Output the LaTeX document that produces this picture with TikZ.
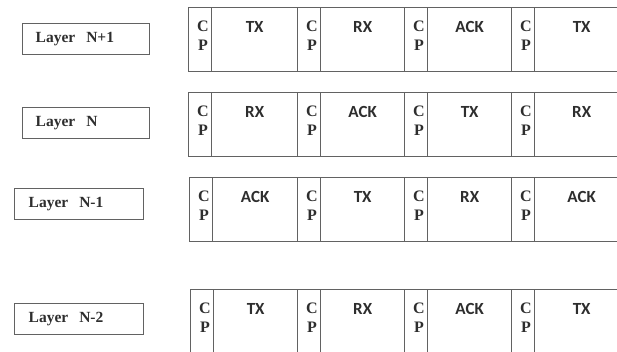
\documentclass[tikz,border=0pt]{standalone}
\usepackage{fontspec}
\setmainfont{Liberation Serif}
\newfontfamily\segfont{Carlito}
\definecolor{edge}{HTML}{626262}
\definecolor{ink}{HTML}{2E2E2E}
\tikzset{
  layerbox/.style={draw=edge, line width=1.4pt, minimum width=127pt, minimum height=31pt,
    anchor=north west, inner xsep=13pt, inner ysep=0pt, text width=101pt, align=left,
    text=ink, font=\bfseries\fontsize{15.5}{15.5}\selectfont},
  cpbox/.style={draw=edge, line width=1.3pt, minimum height=64pt, anchor=north west, inner sep=0pt},
  databox/.style={draw=edge, line width=1.3pt, minimum height=64pt, anchor=north west, inner sep=0pt},
  cptext/.style={inner sep=0pt, text=ink, font=\bfseries\fontsize{16}{16}\selectfont},
  segtext/.style={inner sep=0pt, text=ink, font=\segfont\bfseries\fontsize{17}{17}\selectfont},
}
\begin{document}
\begin{tikzpicture}[x=1pt,y=-1pt]
\useasboundingbox (0,0) rectangle (617,351);
\clip (0,0) rectangle (617,351);
\node[layerbox] (L1) at (22,23) {Layer\hspace{11pt}N+1};
\node[layerbox] (L2) at (22,107) {Layer\hspace{11pt}N};
\node[layerbox, minimum width=129pt] (L3) at (14,188) {Layer\hspace{11pt}N-1};
\node[layerbox, minimum width=129pt] (L4) at (14,303) {Layer\hspace{11pt}N-2};
\foreach \r/\top/\lft/\la/\lb/\lc/\ld in {1/7/188/TX/RX/ACK/TX, 2/92/188/RX/ACK/TX/RX, 3/177/189/ACK/TX/RX/ACK, 4/289/190/TX/RX/ACK/TX}{
  \foreach \s/\xs/\xn/\lab in {1/\lft/297/\la, 2/297/404/\lb, 3/404/511/\lc, 4/511/628/\ld}{
    \node[cpbox, minimum width=23pt] (cp\r\s) at (\xs,\top) {};
    \node[databox, minimum width={\xn-\xs-23}] (d\r\s) at (\xs+23,\top) {};
    \node[cptext] (c\r\s) at (\xs+15,\top+19) {C};
    \node[cptext] (p\r\s) at (\xs+15,\top+38) {P};
    \node[segtext, anchor=center] (t\r\s) at ([yshift=-20pt]d\r\s.north) {\lab};
  }
}
\end{tikzpicture}
\end{document}
